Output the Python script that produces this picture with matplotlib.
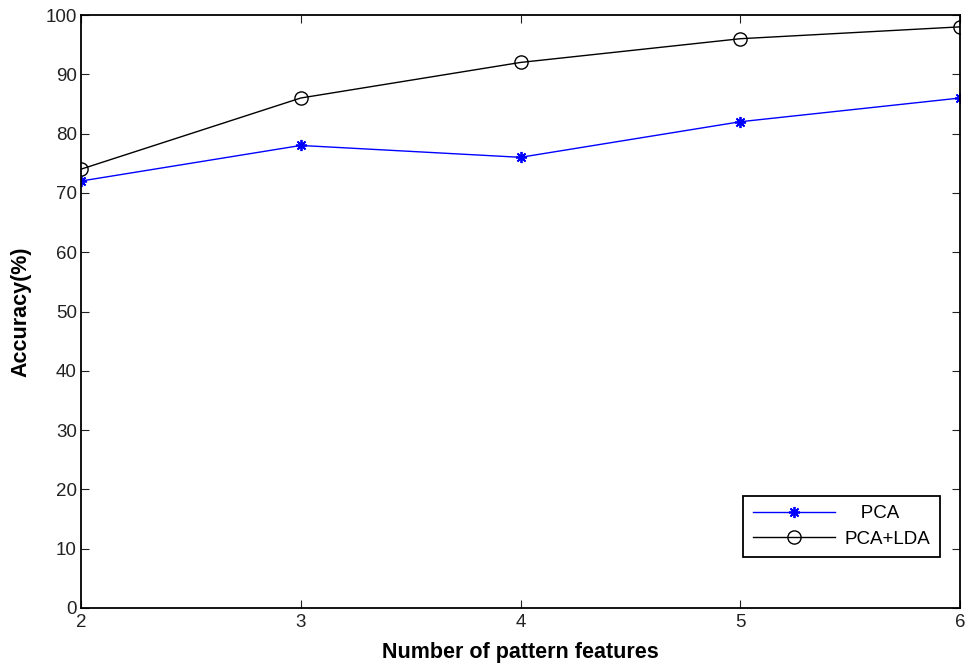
import matplotlib
matplotlib.use('Agg')
import matplotlib.pyplot as plt

# 数据
features = [2, 3, 4, 5, 6]
pca = [72, 78, 76, 82, 86]
pca_lda = [74, 86, 92, 96, 98]

plt.rcParams['font.family'] = ['Liberation Sans', 'DejaVu Sans']

fig = plt.figure(figsize=(9.68, 6.64), dpi=100)
ax = fig.add_axes([81 / 968, 1 - 608 / 664, 879 / 968, 593 / 664])

ax.plot(features, pca, color='blue', marker=(8, 2, 0), markersize=8, markeredgewidth=1.3,
        linewidth=1, label='   PCA')
ax.plot(features, pca_lda, color='black', marker='o', markersize=9.5, markerfacecolor='none',
        linewidth=1, label='PCA+LDA')

ax.set_xlim(2, 6)
ax.set_ylim(0, 100)
ax.set_xticks(features)
ax.set_yticks(range(0, 101, 10))
ax.tick_params(direction='in', labelsize=13.5, length=6, top=True, right=True,
               labeltop=False, labelright=False, colors='#222222')
ax.tick_params(axis='x', pad=4)
ax.tick_params(axis='y', pad=3)
for s in ax.spines.values():
    s.set_linewidth(1.3)

ax.set_xlabel('Number of pattern features', fontsize=15.5, fontweight='bold', labelpad=8)
ax.set_ylabel('Accuracy(%)', fontsize=15.5, fontweight='bold', labelpad=10)

leg = ax.legend(loc='lower right', bbox_to_anchor=(0.977, 0.086), fontsize=13.5,
                fancybox=False, edgecolor='black', framealpha=1, handlelength=4.4,
                handletextpad=0.5, borderpad=0.5, labelspacing=0.45, borderaxespad=0)
leg.get_frame().set_linewidth(1.3)

fig.savefig('out.png', dpi=100)
